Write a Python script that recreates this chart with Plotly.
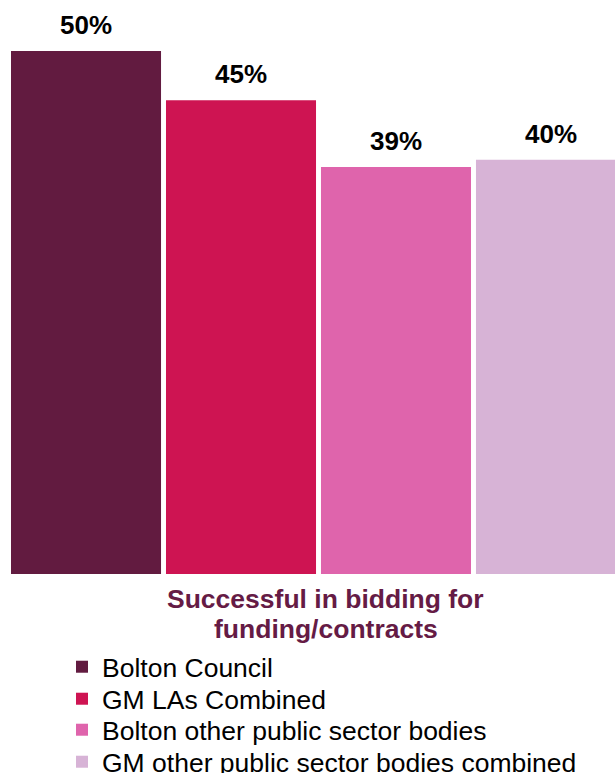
import plotly.graph_objects as go

series = ["Bolton Council", "GM LAs Combined",
          "Bolton other public sector bodies",
          "GM other public sector bodies combined"]
values = [50, 45.3, 38.9, 39.6]
colors = ["#621B40", "#CE1452", "#DF64AC", "#D7B3D6"]
category_lines = ["Successful in bidding for", "funding/contracts"]

FONT = "Liberation Sans, Arial, sans-serif"
PLOT_H = 574.0
legend_rows_px = [667, 699, 730, 762]

fig = go.Figure()
legend_ids = ["legend", "legend2", "legend3", "legend4"]
for name, v, c, lg in zip(series, values, colors, legend_ids):
    fig.add_trace(go.Bar(x=[name], y=[v], name=name, marker_color=c,
                         marker_line_width=0, legend=lg, showlegend=True))
    fig.add_annotation(x=name, y=v, xref="x", yref="y", text=f"<b>{v:.0f}%</b>",
                       showarrow=False, yanchor="middle", yshift=26,
                       font=dict(family=FONT, size=26, color="#000000"))

ann_y = [599, 629]
for line, py in zip(category_lines, ann_y):
    fig.add_annotation(x=326 / 615, y=(PLOT_H - py) / PLOT_H, xref="paper", yref="paper",
                       text=f"<b>{line}</b>", showarrow=False,
                       xanchor="center", yanchor="middle",
                       font=dict(family=FONT, size=26.5, color="#651B45"))

layout_legends = {}
for lg, py in zip(legend_ids, legend_rows_px):
    layout_legends[lg] = dict(x=(102 - 40) / 615, xanchor="left",
                              y=(PLOT_H - py) / PLOT_H, yanchor="middle",
                              font=dict(family=FONT, size=26.5, color="#000000"),
                              bgcolor="rgba(0,0,0,0)", borderwidth=0)

fig.update_layout(
    width=615, height=773,
    margin=dict(l=0, r=0, t=0, b=773 - PLOT_H, pad=0, autoexpand=False),
    barmode="overlay", bargap=0.032,
    plot_bgcolor="white", paper_bgcolor="white",
    xaxis=dict(visible=False, range=[-0.555, 3.413], type="category"),
    yaxis=dict(visible=False, range=[0, PLOT_H / 10.46]),
    font=dict(family=FONT),
    **layout_legends,
)

fig.write_html("out.html", config={"displayModeBar": False},
               post_script="document.body.style.margin='0';document.body.style.overflow='hidden';")
